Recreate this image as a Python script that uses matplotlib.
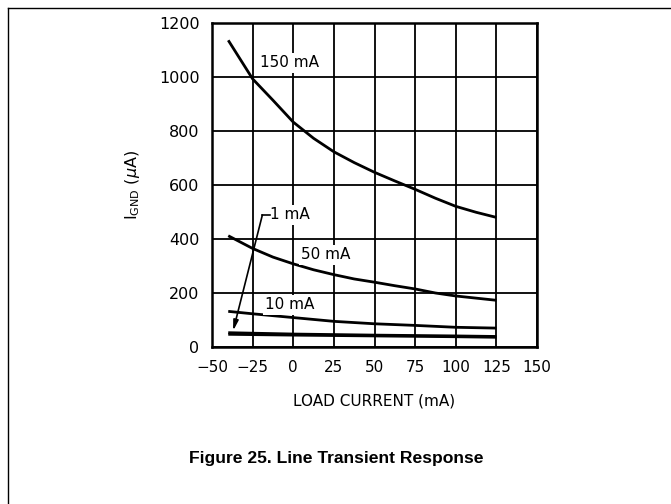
import matplotlib
matplotlib.use("Agg")
import matplotlib.pyplot as plt
from matplotlib.lines import Line2D

# ---- data ----
x_150 = [-40, -25, -12.5, 0, 12.5, 25, 37.5, 50, 62.5, 75, 87.5, 100, 112.5, 125]
y_150 = [1136, 993, 914, 833, 773, 723, 683, 647, 615, 584, 551, 521, 499, 480]

x_50 = [-40, -25, -12.5, 0, 12.5, 25, 37.5, 50, 62.5, 75, 87.5, 100, 112.5, 125]
y_50 = [412, 365, 333, 308, 286, 268, 252, 240, 227, 215, 200, 189, 181, 173]

x_10 = [-40, -25, 0, 25, 50, 75, 100, 125]
y_10 = [132, 123, 109, 95, 86, 80, 73, 70]

x_1a = [-40, 0, 50, 100, 125]
y_1a = [53, 48, 44, 41, 39]
x_1b = [-40, 0, 50, 100, 125]
y_1b = [47, 44, 41, 38, 36]

xticks = [-50, -25, 0, 25, 50, 75, 100, 125, 150]
yticks = [0, 200, 400, 600, 800, 1000, 1200]

labels = ["150 mA", "50 mA", "10 mA", "1 mA"]

fig = plt.figure(figsize=(6.71, 5.04), dpi=100)
ax = fig.add_axes([212/671, 1-347/504, 325/671, 324/504])

font = "DejaVu Sans"

for xs, ys in [(x_150, y_150), (x_50, y_50), (x_10, y_10), (x_1a, y_1a), (x_1b, y_1b)]:
    ax.plot(xs, ys, color="black", lw=2.0, solid_capstyle="butt",
            solid_joinstyle="round", zorder=3)

ax.set_xlim(-50, 150)
ax.set_ylim(0, 1200)
ax.set_xticks(xticks)
ax.set_yticks(yticks)
ax.set_xticklabels([str(v).replace("-", "\u2212") for v in xticks], fontsize=11, family=font)
ax.set_yticklabels([str(v) for v in yticks], fontsize=11.5, family=font)
ax.tick_params(length=0, pad=9)
ax.grid(True, color="black", lw=1.3, zorder=1)
for s in ax.spines.values():
    s.set_linewidth(1.8)

ax.set_xlabel("LOAD CURRENT (mA)", fontsize=11, family=font, labelpad=14)
ax.set_ylabel(r"I$_{\mathrm{GND}}$ ($\mu$A)", fontsize=11.5, family=font, labelpad=12)

bb = dict(facecolor="white", edgecolor="none", pad=1.5)
ax.text(-2, 1052, labels[0], fontsize=11, family=font, ha="center", va="center", bbox=bb, zorder=4)
ax.text(20, 341, labels[1], fontsize=11, family=font, ha="center", va="center", bbox=bb, zorder=4)
ax.text(-2, 156, labels[2], fontsize=11, family=font, ha="center", va="center", bbox=bb, zorder=4)
ax.text(-14, 489, labels[3], fontsize=11, family=font, ha="left", va="center", bbox=bb, zorder=4)

# leader for 1 mA
ax.plot([-14.5, -19], [489, 489], color="black", lw=1.2, zorder=5)
ax.annotate("", xy=(-37, 60), xytext=(-19, 489),
            arrowprops=dict(arrowstyle="-|>,head_length=0.6,head_width=0.15",
                            color="black", lw=1.2, shrinkA=0, shrinkB=0), zorder=5)

fig.text(336/671, 1-459/504, "Figure 25. Line Transient Response", fontsize=12.6,
         fontweight="bold", family="Liberation Sans", ha="center", va="center")

# frame lines (top and left)
fig.add_artist(Line2D([8/671, 1], [1-8/504, 1-8/504], color="black", lw=1.0, transform=fig.transFigure))
fig.add_artist(Line2D([8/671, 8/671], [0, 1-8/504], color="black", lw=1.0, transform=fig.transFigure))

fig.savefig("out.png", dpi=100)
